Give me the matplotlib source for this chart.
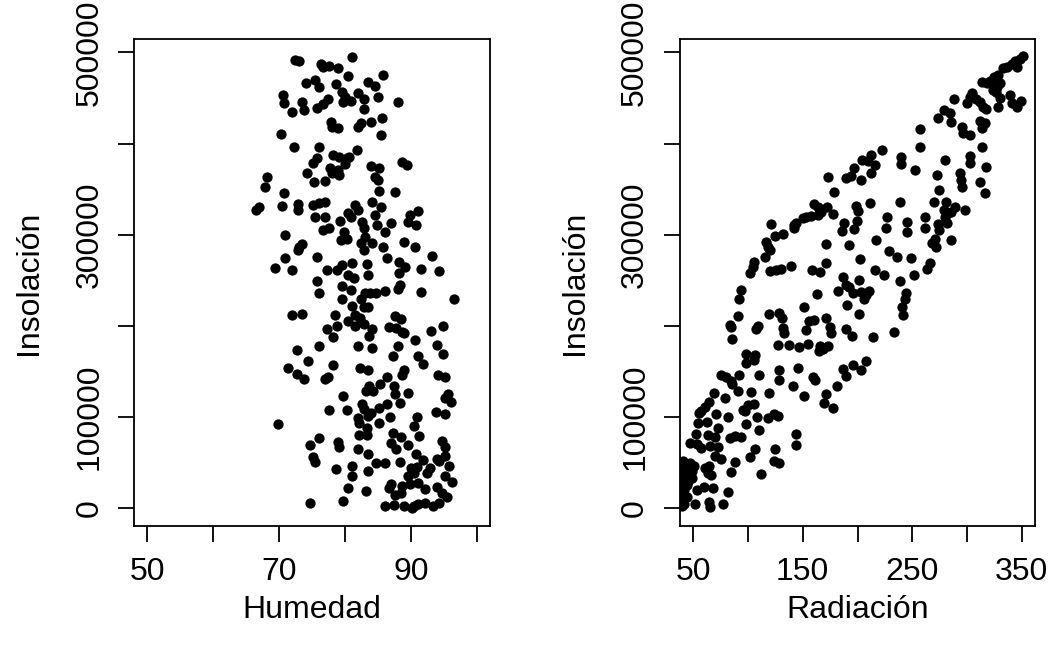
import matplotlib
matplotlib.use("Agg")
import matplotlib.pyplot as plt

# ---------------- data ----------------
humedad = [
    72.4, 73.0, 81.0, 76.4, 76.6, 77.5, 79.0, 80.5, 85.7, 74.0, 75.4, 76.0, 78.6, 83.5, 84.5, 79.5, 82.0, 85.0, 88.1, 70.6,
    70.8, 71.9, 73.5, 73.7, 77.4, 76.6, 75.8, 79.7, 80.9, 80.0, 82.9, 82.8, 77.9, 78.0, 78.9, 82.0, 82.4, 84.0, 85.6, 85.4,
    70.2, 72.3, 76.0, 81.8, 75.7, 75.2, 78.1, 79.1, 80.3, 80.6, 80.0, 88.6, 89.4, 83.9, 85.1, 84.6, 85.0, 74.2, 77.7, 78.0,
    79.1, 78.9, 68.2, 67.9, 75.3, 76.9, 70.8, 85.2, 87.6,
    66.4, 66.9, 70.4, 72.8, 72.9, 75.2, 76.0, 77.0, 81.5, 82.0, 80.5, 80.9, 84.1, 85.5, 89.9, 91.1, 89.5, 90.7, 75.4, 76.9,
    79.2, 79.9, 82.5, 82.8, 84.6, 84.8, 86.1, 87.0, 76.6, 77.5, 70.9, 79.4, 80.3, 82.4, 83.0, 82.8, 84.1, 85.8, 88.9, 90.6,
    73.0, 73.4, 72.9, 70.9, 75.7, 86.3, 88.2, 89.1, 93.2, 69.4, 71.9, 77.2, 78.7, 79.5, 81.0, 80.5, 81.3, 83.4, 83.5, 88.2,
    91.5, 94.3, 75.7, 79.6, 80.9, 76.0, 83.0, 83.8, 84.7, 86.0, 88.0, 88.4, 91.6, 96.5, 79.6, 82.4, 81.0, 82.8, 83.5, 71.9,
    73.5, 78.5, 81.5, 82.3, 80.5, 81.5, 82.8, 87.6, 88.5, 86.7, 87.8, 88.6, 89.0, 77.2, 78.7, 78.2, 84.1, 83.6, 93.1, 94.8,
    90.6, 76.0, 72.7, 82.0, 84.1, 88.1, 94.0, 87.3, 91.0, 94.8,
    71.4, 72.7, 73.7, 74.4, 78.2, 77.0, 77.4, 82.3, 83.5, 91.9, 88.6, 89.0, 86.3, 85.3, 87.5, 94.1, 95.2, 83.6, 83.1, 84.3,
    87.6, 89.5, 79.7, 95.6, 95.2, 96.1, 77.5, 80.3, 82.6, 82.8, 83.9, 83.5, 85.1, 86.3, 88.4, 82.0, 82.1, 85.1, 86.8, 90.9,
    90.5, 93.8, 95.1, 69.8, 83.3, 82.1, 83.4, 87.2, 88.5, 89.6, 91.2, 76.0, 74.7, 78.9, 79.1, 87.0, 87.7, 81.9, 83.5, 94.7,
    95.1, 90.8, 95.2, 75.2, 75.4, 78.6, 81.1, 81.1, 83.5, 84.7, 86.1, 88.4, 91.9, 93.9, 95.7, 90.0, 90.9, 90.4, 89.6, 92.4,
    92.9, 94.2, 95.1, 96.2, 80.5, 83.1, 87.0, 86.7, 88.6, 87.6, 88.5, 89.9, 91.1, 92.1, 93.9, 94.7, 95.4, 74.7, 79.7, 86.1,
    87.5, 89.0, 90.4, 91.1, 92.2, 93.4, 94.2, 90.1,
]
insolacion_h = [
    491600, 490800, 495200, 487900, 484300, 485000, 483500, 474000, 475100, 466700, 469600, 462300, 464900, 467800, 463400, 456800, 455000, 450600, 445900, 453200,
    444800, 434900, 445900, 436700, 448400, 443300, 438600, 445900, 447000, 451400, 448400, 437500, 424000, 417700, 416600, 418500, 422100, 424000, 428300, 409300,
    410100, 396500, 395800, 392900, 383700, 379000, 387400, 385600, 383700, 385600, 377500, 380100, 376400, 375300, 372800, 362900, 360000, 368000, 372800, 367300,
    365500, 371000, 363600, 352000, 358200, 359300, 346100, 348300, 347200,
    327100, 330800, 331500, 333700, 327100, 332600, 335200, 336300, 332600, 327100, 323500, 319800, 336300, 330100, 321700, 326400, 314300, 310700, 319800, 319100,
    315400, 303400, 314300, 307000, 321700, 310700, 303400, 312500, 305200, 307000, 299700, 294200, 295000, 290600, 297900, 283300, 290600, 286900, 292400, 286900,
    286900, 289900, 283300, 274100, 276000, 274100, 270500, 265000, 276700, 263200, 261300, 261300, 261300, 266800, 268700, 255900, 252200, 267600, 255900, 257700,
    262100, 260600, 249600, 243800, 239400, 235800, 235800, 236500, 235800, 238700, 240100, 244900, 237600, 229200, 229200, 229200, 221900, 220400, 221100, 212000,
    213100, 212000, 212000, 208300, 204700, 199200, 202100, 210200, 207200, 198500, 197400, 193700, 191900, 196300, 199900, 188200, 196300, 189000, 194800, 199900,
    184600, 177300, 172900, 177300, 175400, 178000, 179100, 166300, 167000, 169200,
    153500, 147300, 141400, 160800, 157100, 141400, 143600, 153500, 151600, 158200, 146200, 150900, 144300, 136300, 134100, 146200, 144300, 133400, 127900, 127900,
    125300, 126000, 123100, 125300, 120600, 115800, 107000, 107000, 114400, 108500, 104100, 100500, 109600, 114400, 115100, 98600, 93200, 93200, 99700, 99700,
    89500, 104900, 103000, 92100, 87700, 80400, 80400, 82200, 77800, 69400, 78500, 76700, 69400, 72000, 66800, 71200, 64600, 64600, 59500, 73100,
    66800, 59500, 56600, 55900, 50000, 42700, 46400, 35400, 40200, 49300, 49300, 50000, 52900, 53700, 46400, 43800, 44900, 38300, 34700, 38300,
    43800, 51100, 34700, 28100, 21900, 18200, 26600, 21900, 24400, 14600, 16400, 26600, 27400, 20800, 23000, 16400, 12000, 5400, 7300, 1800,
    3600, 1800, 1800, 4700, 5400, 1800, 5400, 0,
]

radiacion = [
    172.8, 189.4, 178.2,
    351.5, 347.9, 344.0, 340.9, 345.5, 336.4, 332.7, 327.9, 324.3, 325.8, 321.2, 330.3, 327.3, 323.7, 313.7, 318.2, 326.7, 304.6,
    303.1, 308.5, 312.1, 314.6, 317.6, 300.0, 288.5, 339.4, 340.9, 345.5, 349.1, 330.3, 327.9, 278.8, 284.3, 273.7, 285.5, 311.5,
    316.7, 313.7, 295.5, 296.4, 302.4, 257.0, 257.0, 222.7, 212.1, 209.7, 215.8, 203.7, 197.0, 194.0, 203.1, 212.7, 240.0, 240.0,
    252.1, 280.3, 272.7, 303.1, 302.4, 313.7, 317.6, 293.4, 294.6, 295.5, 312.1, 316.7, 274.3,
    160.7, 164.3, 172.2, 163.7, 166.7, 177.3, 157.6, 153.1, 150.1, 142.5, 144.0, 141.9, 187.3, 185.5, 121.3, 131.9, 124.3, 116.7,
    118.2, 115.2, 119.7, 171.3, 192.5, 105.5, 104.6, 101.6, 119.7, 125.8, 130.4, 139.4, 158.2, 166.1, 171.3, 186.4, 189.4, 181.9,
    192.5, 94.0, 91.6, 163.1, 151.6, 190.4, 91.0, 83.4, 84.9, 85.5, 118.8, 128.8, 131.0, 131.9, 132.8, 109.1, 107.6, 156.1,
    160.0, 153.1, 171.3, 175.2, 175.8, 189.4, 127.3, 137.9, 147.0, 154.6, 166.1, 168.2, 172.8, 165.2, 98.5, 106.1,
    198.5, 200.6, 211.5, 238.8, 269.7, 281.2, 199.4, 197.0, 227.3, 225.8, 245.5, 245.5, 261.2, 261.2, 278.8, 282.4, 284.9, 289.4,
    298.5, 280.3, 273.4, 274.3, 281.8, 216.7, 270.3, 268.2, 271.2, 285.5, 228.8, 236.4, 248.5, 202.1, 266.1, 263.7, 215.8, 224.3,
    238.8, 251.5, 201.5, 195.5, 203.0, 206.1, 210.6, 207.6, 244.0, 243.1, 240.9, 241.8, 201.5, 194.6, 214.6, 233.4,
    98.5, 105.5, 75.8, 80.4, 84.3, 85.5, 91.6, 109.7, 127.9, 128.8, 146.1, 159.1, 161.3, 141.0, 151.6, 181.3, 186.4, 189.4,
    171.3, 169.7, 177.3, 69.1, 78.8, 91.0, 103.1, 118.8, 64.3, 60.7, 57.6, 55.2, 95.5, 100.0, 105.5, 97.6, 71.3, 81.9,
    108.5, 118.2, 123.7, 127.3, 54.6, 62.2, 72.8, 98.5, 109.7, 52.2, 63.7, 69.7, 83.4, 87.9, 93.4, 144.0, 144.0, 47.0,
    53.1, 57.6, 65.2, 72.8, 69.7, 75.2, 106.1, 101.6, 124.9, 123.7, 128.8, 87.9, 84.3, 111.6, 41.0, 44.0, 47.0, 51.0,
    42.5, 45.5, 48.5, 41.0, 44.0, 41.9, 60.7, 63.7, 64.3, 66.7, 53.1, 60.0, 68.2, 81.9, 44.0, 41.9, 51.6, 64.3,
    65.2, 77.3, 39.4, 45.5, 39.4, 48.5, 39.4, 45.5, 38.8, 39.4,
    195.5, 203.0, 207.6,
]
insolacion_r = [
    363600, 361800, 347200,
    496000, 492300, 490800, 487900, 484300, 484300, 483500, 475100, 473300, 470400, 468900, 466000, 461600, 458700, 467800, 466700, 456800, 455700,
    451400, 448400, 445900, 440400, 437500, 444100, 448400, 453200, 444100, 440400, 447000, 449500, 440400, 436700, 433800, 428300, 424000, 425100,
    422100, 416600, 417700, 411200, 409300, 415500, 395800, 392900, 387400, 381200, 376400, 381900, 372800, 364400, 360000, 368000, 385600, 377500,
    370900, 381900, 365500, 386300, 379000, 396500, 374600, 367300, 360000, 352700, 358200, 345400, 349000,
    333700, 330100, 330800, 321700, 325300, 322700, 320600, 319800, 318000, 310700, 313200, 307000, 313200, 304500, 311800, 300800, 298600, 292400,
    286900, 276000, 283300, 289500, 288800, 270500, 265000, 257700, 260600, 261300, 262100, 265700, 261300, 259500, 268700, 253300, 244900, 238700,
    243100, 239400, 229200, 235000, 221100, 223000, 210200, 201000, 198500, 185300, 213100, 213800, 208300, 197400, 192600, 199900, 196300, 204700,
    205800, 195600, 208300, 198500, 191900, 196300, 179100, 179100, 176600, 179800, 177300, 174300, 178000, 171800, 169200, 168100,
    331500, 326400, 334400, 336300, 336300, 336300, 315400, 305900, 319800, 307000, 314300, 303400, 319800, 307000, 327100, 323500, 325300, 330800,
    327100, 319800, 311800, 305200, 313200, 294200, 295000, 290600, 286900, 294200, 282500, 276000, 274100, 273400, 268700, 262100, 261300, 255900,
    249600, 255500, 250400, 236500, 237600, 229200, 238700, 233900, 236500, 229200, 220400, 212000, 213100, 189000, 188200, 193400,
    158900, 162600, 146200, 144300, 139900, 136300, 146200, 146200, 150900, 140700, 153500, 143600, 140700, 134100, 123100, 134100, 152400, 145100,
    125300, 115100, 109600, 126000, 120600, 127900, 126800, 126000, 115800, 110700, 106000, 104100, 107800, 113300, 114400, 106000, 103400, 99700,
    99700, 98600, 103400, 101200, 93200, 93900, 87700, 92400, 85100, 81500, 80400, 77800, 76700, 79300, 77800, 81500, 69400, 71200,
    70500, 65700, 68300, 66800, 57300, 53700, 64600, 55900, 64600, 51100, 49300, 50000, 39100, 37600, 51100, 47500, 49300, 45600,
    42000, 36500, 32900, 31000, 25500, 20100, 43800, 38300, 46400, 36500, 19300, 23000, 21900, 17100, 12000, 4700, 4700, 6200,
    1100, 4700, 45600, 42000, 36500, 40200, 25500, 29200, 10900, 1800,
    157100, 151600, 160800,
]

hum_ticks = [50, 60, 70, 80, 90, 100]
hum_labels = ["50", "", "70", "", "90", ""]
rad_ticks = [50, 100, 150, 200, 250, 300, 350]
rad_labels = ["50", "", "150", "", "250", "", "350"]
ins_ticks = [0, 100000, 200000, 300000, 400000, 500000]
ins_labels = ["0", "100000", "", "300000", "", "500000"]

# ---------------- figure ----------------
plt.rcParams["font.family"] = ["Liberation Sans", "DejaVu Sans"]
W, H = 1054, 651
fig = plt.figure(figsize=(W / 100, H / 100), dpi=100)

FS = 23
LW = 1.3


def style(ax, xticks, xlabels, xlim, xlabel):
    ax.set_xlim(*xlim)
    ax.set_ylim(-19800, 514800)
    ax.set_xticks(xticks)
    ax.set_xticklabels(xlabels)
    ax.set_yticks(ins_ticks)
    ax.set_yticklabels(ins_labels, rotation=90, va="center")
    ax.tick_params(direction="out", length=11.5, width=LW, labelsize=FS,
                   color="black", labelcolor="black")
    ax.tick_params(axis="x", pad=11)
    ax.tick_params(axis="y", pad=10)
    for s in ax.spines.values():
        s.set_linewidth(LW)
        s.set_color("black")
    ax.set_xlabel(xlabel, fontsize=FS)
    ax.set_ylabel("Insolación", fontsize=FS)
    ax.xaxis.label.set_va("center")
    ax.yaxis.label.set_va("center")
    ax.xaxis.set_label_coords(0.5, -0.172)
    ax.yaxis.set_label_coords(-0.295, 0.5)


ax1 = fig.add_axes([134.3 / W, (H - 526) / H, 355.7 / W, 487 / H])
ax1.scatter(humedad, insolacion_h, s=55, c="black", linewidths=0)
style(ax1, hum_ticks, hum_labels, (48, 102), "Humedad")

ax2 = fig.add_axes([680 / W, (H - 526) / H, 355 / W, 487 / H])
ax2.scatter(radiacion, insolacion_r, s=55, c="black", linewidths=0)
style(ax2, rad_ticks, rad_labels, (38, 362), "Radiación")

fig.savefig("out.png", dpi=100)
